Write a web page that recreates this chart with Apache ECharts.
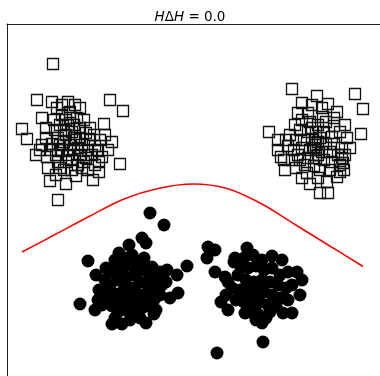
<!DOCTYPE html>
<html>
<head>
<meta charset="utf-8">
<script src="https://cdn.jsdelivr.net/npm/echarts@6/dist/echarts.min.js"></script>
<style>
  html, body { margin: 0; padding: 0; background: #fff; }
  #chart { width: 380px; height: 376px; }
</style>
</head>
<body>
<div id="chart"></div>
<script>
// Source domain samples (open squares), upper-left cluster
const sourceLeft = [
  [53,64],[37,100],[52,102],[68,102],[110,100],[123,111],[22,129],[27,139],[42,118],[57,108],
  [80,108],[77,118],[104,124],[105,135],[112,142],[120,164],[99,162],[93,180],[99,172],[50,181],
  [66,184],[58,200],[47,157],[40,150],[48,168],[60,168],[72,170],[82,168],
  [62,115],[66,120],[70,112],[74,125],[60,125],[55,130],[64,130],[72,132],[80,128],[86,133],
  [90,140],[95,146],[88,150],[82,145],[76,140],[70,145],[64,142],[58,138],[52,144],[46,138],
  [50,150],[56,155],[62,150],[68,155],[74,150],[80,155],[86,158],[92,155],[98,150],[66,162],
  [72,160],[78,165],[58,162],[54,120],[62,105],[75,105],[68,125],[84,120],[90,128],[94,135],
  [100,140],[60,145],[66,135],[74,138],[70,150],[78,148],[84,162],[64,170],[56,175],[76,176],
  [88,170],[46,128],[42,145],[36,155],[102,157],[108,150],[95,165],[70,118],[80,138],[58,150]
];
// Source domain samples (open squares), upper-right cluster
const sourceRight = [
  [292,89],[317,96],[355,94],[363,109],[328,104],[302,103],[337,112],[298,113],[308,113],[323,117],
  [345,125],[269,132],[361,134],[347,138],[342,148],[278,150],[281,157],[285,170],[300,160],[307,173],
  [310,184],[327,182],[337,177],[320,193],[328,193],[343,163],[345,155],[290,135],[332,137],
  [295,125],[302,120],[310,122],[318,125],[326,122],[334,126],[300,130],[308,132],[316,132],[324,132],
  [340,132],[296,140],[304,140],[312,140],[318,142],[326,144],[334,144],[288,146],[294,150],[302,148],
  [310,150],[316,150],[322,152],[330,152],[338,155],[284,160],[292,160],[308,158],[316,158],[324,160],
  [332,162],[340,165],[296,168],[314,166],[320,170],[330,170],[344,170],[302,178],[318,178],[312,128],
  [320,138],[316,145],[318,155],[314,148],[342,158],[340,172],[286,140],[278,140],[350,148],[305,165],
  [298,155],[322,108],[312,105],[334,118]
];
// Target domain samples (filled circles), lower-left cluster
const targetLeft = [
  [150,213],[164,225],[142,238],[146,243],[129,245],[119,253],[88,261],[115,260],[187,266],[152,267],
  [167,270],[177,275],[96,275],[80,304],[95,310],[178,293],[170,298],[112,324],[122,324],[146,323],
  [154,314],[98,300],[99,290],
  [105,280],[112,272],[120,268],[128,265],[136,262],[144,270],[150,275],[158,280],[104,290],[110,285],
  [118,280],[126,278],[134,275],[140,282],[148,286],[156,290],[162,285],[108,298],[116,294],[124,290],
  [132,288],[138,294],[146,298],[154,300],[160,295],[112,306],[120,302],[128,300],[136,304],[142,308],
  [150,306],[118,312],[126,310],[134,314],[140,318],[124,258],[132,255],[122,272],[130,296],[138,270],
  [144,258],[160,272],[166,282],[102,305],[130,320],[115,318],[148,292],[156,310],[106,268],[125,285]
];
// Target domain samples (filled circles), lower-right cluster
const targetRight = [
  [208,247],[215,250],[207,258],[247,248],[253,255],[235,258],[272,256],[282,260],[288,272],[297,272],
  [215,272],[225,277],[221,302],[228,310],[245,313],[262,323],[292,313],[283,313],[270,312],[300,295],
  [302,280],[263,342],[217,353],
  [240,265],[248,268],[256,266],[264,270],[272,268],[280,275],[238,275],[246,280],[254,282],[262,280],
  [270,282],[278,285],[286,288],[232,288],[240,290],[248,292],[256,294],[264,292],[272,295],[280,298],
  [288,300],[236,300],[244,302],[252,304],[260,302],[268,305],[276,306],[250,312],[258,314],[234,262],
  [244,258],[262,260],[228,282],[292,285],[226,295],[256,320],[266,318],[262,288],[250,285],[242,295]
];
// Decision boundary traced across the plane
const boundary = [
  [22,252],[56,234],[90,216],[124,199],[158,188.5],[193,184],[227,188.5],[261,203.5],[295,224.5],
  [329,245.5],[363,266.5]
];

const chart = echarts.init(document.getElementById('chart'), null, { renderer: 'canvas' });

const squareStyle = { color: 'rgba(0,0,0,0)', borderColor: '#111', borderWidth: 1.3, opacity: 1 };
const circleStyle = { color: '#000', opacity: 1 };

chart.setOption({
  animation: false,
  backgroundColor: '#fff',
  title: {
    left: 'center',
    top: 5,
    text: '{i|H}{n|Δ}{i|H}{n| = 0.0}',
    textStyle: {
      fontWeight: 'normal',
      rich: {
        i: { fontFamily: 'DejaVu Sans', fontStyle: 'italic', fontWeight: 'normal', fontSize: 13.5, color: '#000' },
        n: { fontFamily: 'DejaVu Sans', fontWeight: 'normal', fontSize: 13.5, color: '#000' }
      }
    }
  },
  grid: { left: 7, top: 24, right: 0, bottom: 0 },
  xAxis: {
    type: 'value', min: 7, max: 380, position: 'top',
    axisLine: { show: true, onZero: false, lineStyle: { color: '#222', width: 1 } },
    axisTick: { show: false }, axisLabel: { show: false }, splitLine: { show: false }
  },
  yAxis: {
    type: 'value', min: 24, max: 376, inverse: true,
    axisLine: { show: true, onZero: false, lineStyle: { color: '#222', width: 1 } },
    axisTick: { show: false }, axisLabel: { show: false }, splitLine: { show: false }
  },
  series: [
    { type: 'scatter', data: sourceLeft, symbol: 'rect', symbolSize: 11, itemStyle: squareStyle, clip: false },
    { type: 'scatter', data: sourceRight, symbol: 'rect', symbolSize: 11, itemStyle: squareStyle, clip: false },
    { type: 'scatter', data: targetLeft, symbol: 'circle', symbolSize: 13, itemStyle: circleStyle, clip: false },
    { type: 'scatter', data: targetRight, symbol: 'circle', symbolSize: 13, itemStyle: circleStyle, clip: false },
    { type: 'line', data: boundary, smooth: 0.35, showSymbol: false, symbol: 'none',
      lineStyle: { color: '#ff0000', width: 1.5 } }
  ]
});
</script>
</body>
</html>
